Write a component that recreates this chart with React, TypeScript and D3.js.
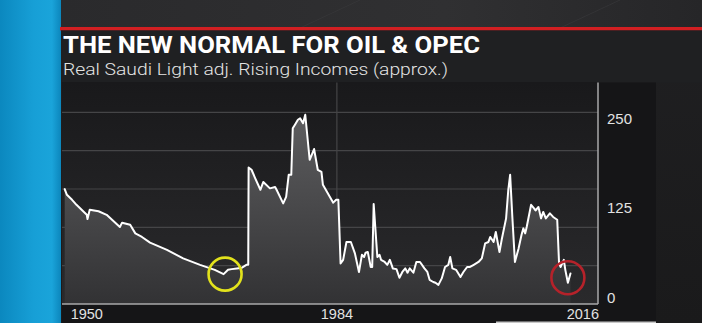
import React from "react";
import * as d3 from "d3";

// ---- data ----
const years: number[] = [
  1947.0, 1947.3, 1948.0, 1948.6, 1950.0, 1950.1, 1950.4, 1951.6, 1952.7, 1954.5,
  1954.8, 1955.9, 1956.6, 1957.5, 1958.6, 1960.9, 1963.1, 1965.4, 1967.4, 1968.6,
  1969.2, 1969.7, 1970.4, 1971.1, 1971.7, 1971.95, 1972.0, 1972.4, 1972.9, 1973.6,
  1974.0, 1974.9, 1975.6, 1975.8, 1976.7, 1977.1, 1977.45, 1977.8, 1978.0, 1978.3,
  1978.7, 1979.0, 1979.4, 1979.7, 1980.3, 1980.9, 1981.4, 1981.9, 1982.1, 1983.5,
  1983.9, 1984.2, 1984.5, 1984.85, 1985.3, 1985.9, 1986.45, 1987.0, 1987.4, 1987.7,
  1987.9, 1988.2, 1988.6, 1988.8, 1989.0, 1989.5, 1989.8, 1990.0, 1990.5, 1990.85,
  1991.2, 1991.6, 1992.1, 1992.5, 1992.9, 1993.3, 1993.6, 1993.9, 1994.4, 1994.8,
  1995.3, 1995.9, 1996.3, 1996.6, 1997.1, 1997.4, 1997.8, 1998.25, 1998.7, 1999.15,
  1999.4, 1999.7, 2000.2, 2000.8, 2001.2, 2001.7, 2002.1, 2002.6, 2003.25, 2003.7,
  2004.15, 2004.6, 2004.85, 2005.3, 2005.6, 2006.1, 2006.4, 2007.0, 2007.3, 2007.55,
  2007.85, 2008.2, 2008.7, 2009.1, 2009.35, 2009.6, 2009.8, 2010.4, 2010.8, 2011.0,
  2011.4, 2011.75, 2012.05, 2012.4, 2012.95, 2013.4, 2013.95, 2014.2, 2014.4, 2014.85,
  2015.05, 2015.4, 2015.75,
];
const values: number[] = [
  151, 143, 136, 129, 115, 109, 122, 120, 115, 98,
  104, 101, 89, 84, 76, 66, 54, 45, 38, 32,
  38, 39, 40, 41, 45, 45, 181, 178, 166, 150,
  161, 152, 154, 150, 131, 140, 171, 171, 236, 241,
  248, 250, 243, 255, 192, 207, 178, 175, 157, 132,
  136, 136, 47, 52, 77, 77, 61, 35, 59, 56,
  62, 63, 42, 42, 130, 56, 59, 52, 49, 45,
  52, 40, 39, 27, 35, 40, 34, 40, 34, 49,
  49, 40, 35, 24, 21, 20, 17, 26, 42, 45,
  56, 40, 38, 28, 35, 42, 42, 45, 49, 54,
  75, 77, 84, 77, 91, 63, 80, 110, 150, 171,
  112, 49, 68, 87, 96, 89, 98, 129, 124, 121,
  126, 110, 119, 110, 117, 112, 108, 47, 42, 52,
  38, 20, 33,
];

const yTicks: number[] = [0, 125, 250];
const xTickYears: number[] = [1950, 1984, 2016];
const xGridYears: number[] = [1984];
const gridCount = 5;

const highlightYears: number[] = [1968.8, 2015.4];
const highlightValues: number[] = [32, 27];
const highlightColors: string[] = ["#e2e21c", "#b5222a"];

const title = "THE NEW NORMAL FOR OIL & OPEC";
const subtitle = "Real Saudi Light adj. Rising Incomes (approx.)";

// ---- layout ----
const W = 702;
const H = 323;
const stripW = 61;
const plotLeft = 62;
const plotRight = 598;
const plotTop = 82.5;
const plotBottom = 304;
const panelRight = 656;

export default function App() {
  const x = d3.scaleLinear().domain([1947, 2016]).range([64.7, 572.3]);
  const y = d3.scaleLinear().domain([0, 250]).range([297, 118.3]);
  const grid = d3.scaleLinear().domain([0, gridCount]).range([plotBottom, 112.3]);

  const pts = years.map((yr, i) => [yr, values[i]] as [number, number]);
  const line = d3
    .line<[number, number]>()
    .x((d) => x(d[0]))
    .y((d) => y(d[1]));
  const area = d3
    .area<[number, number]>()
    .x((d) => x(d[0]))
    .y0(plotBottom)
    .y1((d) => y(d[1]));

  const font = "'Liberation Sans', Arial, sans-serif";

  return (
    <svg
      width={W}
      height={H}
      viewBox={`0 0 ${W} ${H}`}
      style={{ position: "absolute", left: 0, top: 0, display: "block" }}
    >
      <defs>
        <linearGradient id="blue" x1="0" x2="1" y1="0" y2="0">
          <stop offset="0" stopColor="#0b88bf" />
          <stop offset="0.55" stopColor="#179fd6" />
          <stop offset="0.85" stopColor="#1aa4da" />
          <stop offset="1" stopColor="#0c86bc" />
        </linearGradient>
        <linearGradient id="backTop" x1="0" x2="1" y1="0" y2="0">
          <stop offset="0" stopColor="#2a2a2c" />
          <stop offset="0.6" stopColor="#303032" />
          <stop offset="1" stopColor="#262628" />
        </linearGradient>
        <linearGradient id="backRight" x1="0" x2="0" y1="0" y2="1">
          <stop offset="0" stopColor="#202022" />
          <stop offset="1" stopColor="#1a1a1b" />
        </linearGradient>
        <linearGradient id="plotBg" x1="0" x2="0" y1="0" y2="1">
          <stop offset="0" stopColor="#19191b" />
          <stop offset="1" stopColor="#2a2a2c" />
        </linearGradient>
        <linearGradient
          id="areaFill"
          gradientUnits="userSpaceOnUse"
          x1="0"
          x2="0"
          y1={112}
          y2={plotBottom}
        >
          <stop offset="0" stopColor="#5e5e60" />
          <stop offset="1" stopColor="#323234" />
        </linearGradient>
      </defs>

      {/* backdrop */}
      <rect x={0} y={0} width={W} height={H} fill="url(#backRight)" />
      <rect x={stripW} y={0} width={W - stripW} height={28} fill="url(#backTop)" />
      <line x1={300} y1={28} x2={360} y2={0} stroke="#3a3a3c" strokeWidth={1} opacity={0.6} />
      <line x1={560} y1={28} x2={620} y2={0} stroke="#3a3a3c" strokeWidth={1} opacity={0.6} />
      <rect x={0} y={0} width={stripW} height={H} fill="url(#blue)" />

      {/* red rule and title panel */}
      <rect x={60} y={27} width={W - 60} height={3.5} fill="#d21f22" />
      <rect x={61} y={30.5} width={W - 61} height={52} fill="#1f2022" />
      <text
        x={63}
        y={53.3}
        fill="#ffffff"
        fontFamily="Roboto, 'Liberation Sans', sans-serif"
        fontWeight={700}
        fontSize={24}
        textLength={417}
        lengthAdjust="spacingAndGlyphs"
      >
        {title}
      </text>
      <text
        x={63}
        y={75}
        fill="#e4e4e4"
        fontFamily="Roboto, 'Liberation Sans', sans-serif"
        fontWeight={300}
        fontSize={17}
        textLength={385}
        lengthAdjust="spacingAndGlyphs"
      >
        {subtitle}
      </text>

      {/* chart panel */}
      <rect x={62} y={plotTop} width={panelRight - 62} height={H - plotTop} fill="#151517" />
      <rect
        x={plotLeft}
        y={plotTop}
        width={plotRight - plotLeft}
        height={plotBottom - plotTop}
        fill="url(#plotBg)"
      />

      {/* grid */}
      {d3.range(1, gridCount + 1).map((i) => (
        <line
          key={i}
          x1={plotLeft}
          x2={plotRight}
          y1={grid(i)}
          y2={grid(i)}
          stroke="#454547"
          strokeWidth={1.2}
        />
      ))}
      {xGridYears.map((yr) => (
        <line
          key={yr}
          x1={x(yr)}
          x2={x(yr)}
          y1={plotTop}
          y2={plotBottom}
          stroke="#454547"
          strokeWidth={1.2}
        />
      ))}

      {/* data */}
      <path d={area(pts) || ""} fill="url(#areaFill)" />
      <path
        d={line(pts) || ""}
        fill="none"
        stroke="#ffffff"
        strokeWidth={2}
        strokeLinejoin="round"
        strokeLinecap="round"
      />

      {/* axes */}
      <line x1={plotLeft} x2={plotRight} y1={plotBottom} y2={plotBottom} stroke="#a8a8aa" strokeWidth={1.5} />
      <line x1={plotRight} x2={plotRight} y1={plotTop} y2={plotBottom} stroke="#a8a8aa" strokeWidth={1.5} />

      {/* highlight circles */}
      {highlightYears.map((yr, i) => (
        <circle
          key={yr}
          cx={x(yr)}
          cy={y(highlightValues[i])}
          r={16.5}
          fill="none"
          stroke={highlightColors[i]}
          strokeWidth={2.6}
        />
      ))}

      {/* y labels */}
      {yTicks.map((v) => (
        <text
          key={v}
          x={607}
          y={y(v)}
          dominantBaseline="central"
          fill="#e2e2e2"
          fontFamily={font}
          fontSize={15}
        >
          {v}
        </text>
      ))}

      {/* x labels */}
      {xTickYears.map((yr, i) => {
        const last = i === xTickYears.length - 1;
        return (
          <text
            key={yr}
            x={last ? plotRight + 1 : x(yr)}
            y={319.3}
            textAnchor={last ? "end" : "middle"}
            fill="#e2e2e2"
            fontFamily={font}
            fontSize={14.5}
          >
            {yr}
          </text>
        );
      })}

      {/* light strip at bottom */}
      <rect x={496} y={321.5} width={panelRight - 496} height={1.5} fill="#c8c8c8" />
    </svg>
  );
}
